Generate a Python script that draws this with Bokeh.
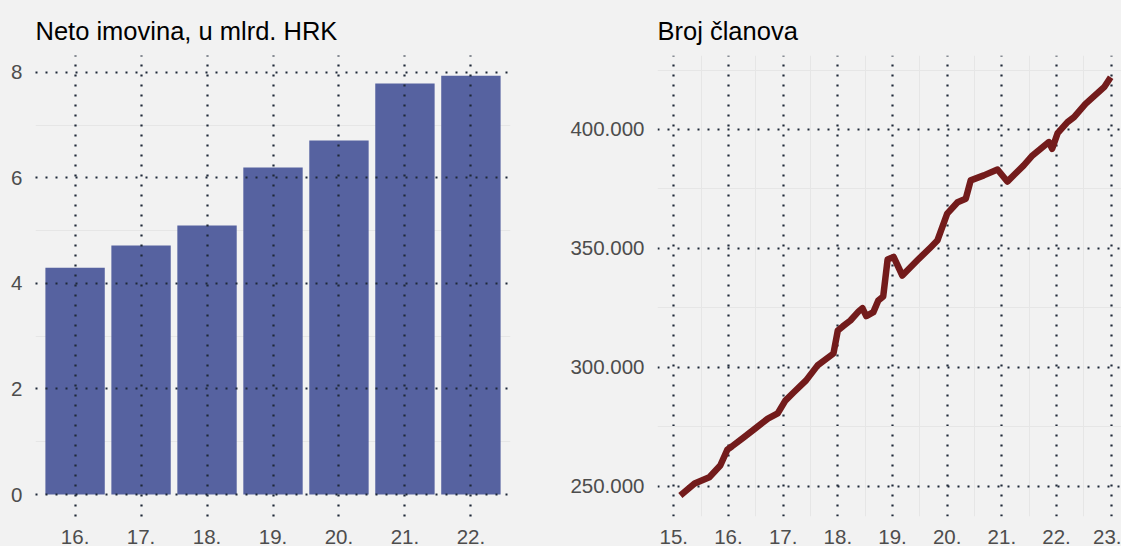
from bokeh.plotting import figure
from bokeh.models import FixedTicker, Range1d, Grid, GlobalInlineStyleSheet
from bokeh.layouts import row
from bokeh.embed import file_html
from bokeh.resources import INLINE

# ---------------- data ----------------
bar_years = [16, 17, 18, 19, 20, 21, 22]
bar_labels = ["16.", "17.", "18.", "19.", "20.", "21.", "22."]
neto_imovina = [4.30, 4.72, 5.10, 6.20, 6.71, 7.79, 7.94]
bar_yticks = [0, 2, 4, 6, 8]
bar_ylabels = ["0", "2", "4", "6", "8"]

clan_t = [15.12, 15.38, 15.65, 15.85, 15.98, 16.06, 16.28, 16.48, 16.72, 16.90,
          17.04, 17.19, 17.42, 17.63, 17.92, 18.00, 18.09, 18.23, 18.38, 18.45,
          18.52, 18.65, 18.74, 18.83, 18.91, 19.02, 19.18, 19.45, 19.70, 19.82,
          20.00, 20.19, 20.34, 20.43, 20.67, 20.92, 21.10, 21.40, 21.56, 21.86,
          21.92, 22.02, 22.20, 22.32, 22.53, 22.87, 22.99]
clan_n = [246100, 251100, 253800, 258700, 265400, 266700, 270500, 274100, 278400, 280600,
          286000, 289400, 294500, 300800, 305800, 315500, 317200, 319700, 323500, 324900,
          321500, 323200, 328100, 329800, 345300, 346400, 338600, 344900, 350500, 353300,
          364600, 369400, 370900, 378600, 380700, 383200, 378100, 384900, 389100, 394700,
          391900, 398500, 403100, 405200, 410800, 417800, 422000]
line_xticks = [15, 16, 17, 18, 19, 20, 21, 22, 23]
line_xlabels = ["15.", "16.", "17.", "18.", "19.", "20.", "21.", "22.", "23."]
line_yticks = [250000, 300000, 350000, 400000]
line_ylabels = ["250.000", "300.000", "350.000", "400.000"]

# ---------------- style ----------------
BG = "#f2f2f2"
DOT = "#1e2838"
MINOR = "#e6e6e6"
FONT = "Liberation Sans"
TICK_COLOR = "#4d4d4d"


def style(p, title):
    p.background_fill_color = BG
    p.border_fill_color = BG
    p.outline_line_color = None
    p.title.text = title
    p.title.text_font = FONT
    p.title.text_font_size = "25.5px"
    p.title.text_font_style = "normal"
    p.title.text_color = "#000000"
    p.title.align = "left"
    p.title.offset = 0
    p.title.standoff = 22
    for ax in p.axis:
        ax.axis_line_color = None
        ax.major_tick_line_color = None
        ax.minor_tick_line_color = None
        ax.major_label_text_font = FONT
        ax.major_label_text_font_size = "20.5px"
        ax.major_label_text_color = TICK_COLOR
    p.yaxis.major_label_standoff = 7
    p.xaxis.major_label_standoff = 7
    for g in (p.xgrid, p.ygrid):
        g.grid_line_color = DOT
        g.grid_line_width = 2.2
        g.grid_line_dash = "2 8"
        g.minor_grid_line_color = None


# ---------------- left: bars ----------------
p1 = figure(width=540, height=546, output_backend="svg", toolbar_location=None,
            x_range=Range1d(15.4, 22.6), y_range=Range1d(-0.417, 8.322),
            min_border_left=35, min_border_right=30, min_border_top=55, min_border_bottom=30)
p1.vbar(x=bar_years, top=neto_imovina, width=0.9, fill_color="#5662a0", line_color=None)
p1.xaxis.ticker = FixedTicker(ticks=bar_years)
p1.xaxis.major_label_overrides = dict(zip(bar_years, bar_labels))
p1.yaxis.ticker = FixedTicker(ticks=bar_yticks)
p1.yaxis.major_label_overrides = dict(zip(bar_yticks, bar_ylabels))
style(p1, "Neto imovina, u mlrd. HRK")
p1.xgrid.ticker = FixedTicker(ticks=bar_years)
p1.ygrid.ticker = FixedTicker(ticks=bar_yticks)
p1.xgrid.level = "overlay"
p1.ygrid.level = "overlay"
minor1 = Grid(dimension=1, ticker=FixedTicker(ticks=[], minor_ticks=[t + 1 for t in bar_yticks[:-1]]),
              grid_line_color=None, minor_grid_line_color=MINOR, minor_grid_line_width=1,
              level="underlay")
p1.add_layout(minor1)

# ---------------- right: line ----------------
p2 = figure(width=581, height=546, output_backend="svg", toolbar_location=None,
            x_range=Range1d(14.702, 23.188), y_range=Range1d(237259, 431117),
            min_border_left=117, min_border_right=0, min_border_top=55, min_border_bottom=30)
style(p2, "Broj članova")
p2.xaxis.ticker = FixedTicker(ticks=line_xticks, minor_ticks=[t + 0.5 for t in line_xticks])
p2.xaxis.major_label_overrides = dict(zip(line_xticks, line_xlabels))
p2.yaxis.ticker = FixedTicker(ticks=line_yticks, minor_ticks=[t + 25000 for t in line_yticks])
p2.yaxis.major_label_overrides = dict(zip(line_yticks, line_ylabels))
for g in (p2.xgrid, p2.ygrid):
    g.minor_grid_line_color = MINOR
    g.minor_grid_line_width = 1
p2.line(clan_t, clan_n, line_width=6.5, line_color="#731b1b", line_join="round")

css = "html, body { background-color: #f2f2f2; overflow: hidden; }"
layout = row(p1, p2, stylesheets=[GlobalInlineStyleSheet(css=css)])

open("out.html", "w").write(file_html(layout, INLINE))
